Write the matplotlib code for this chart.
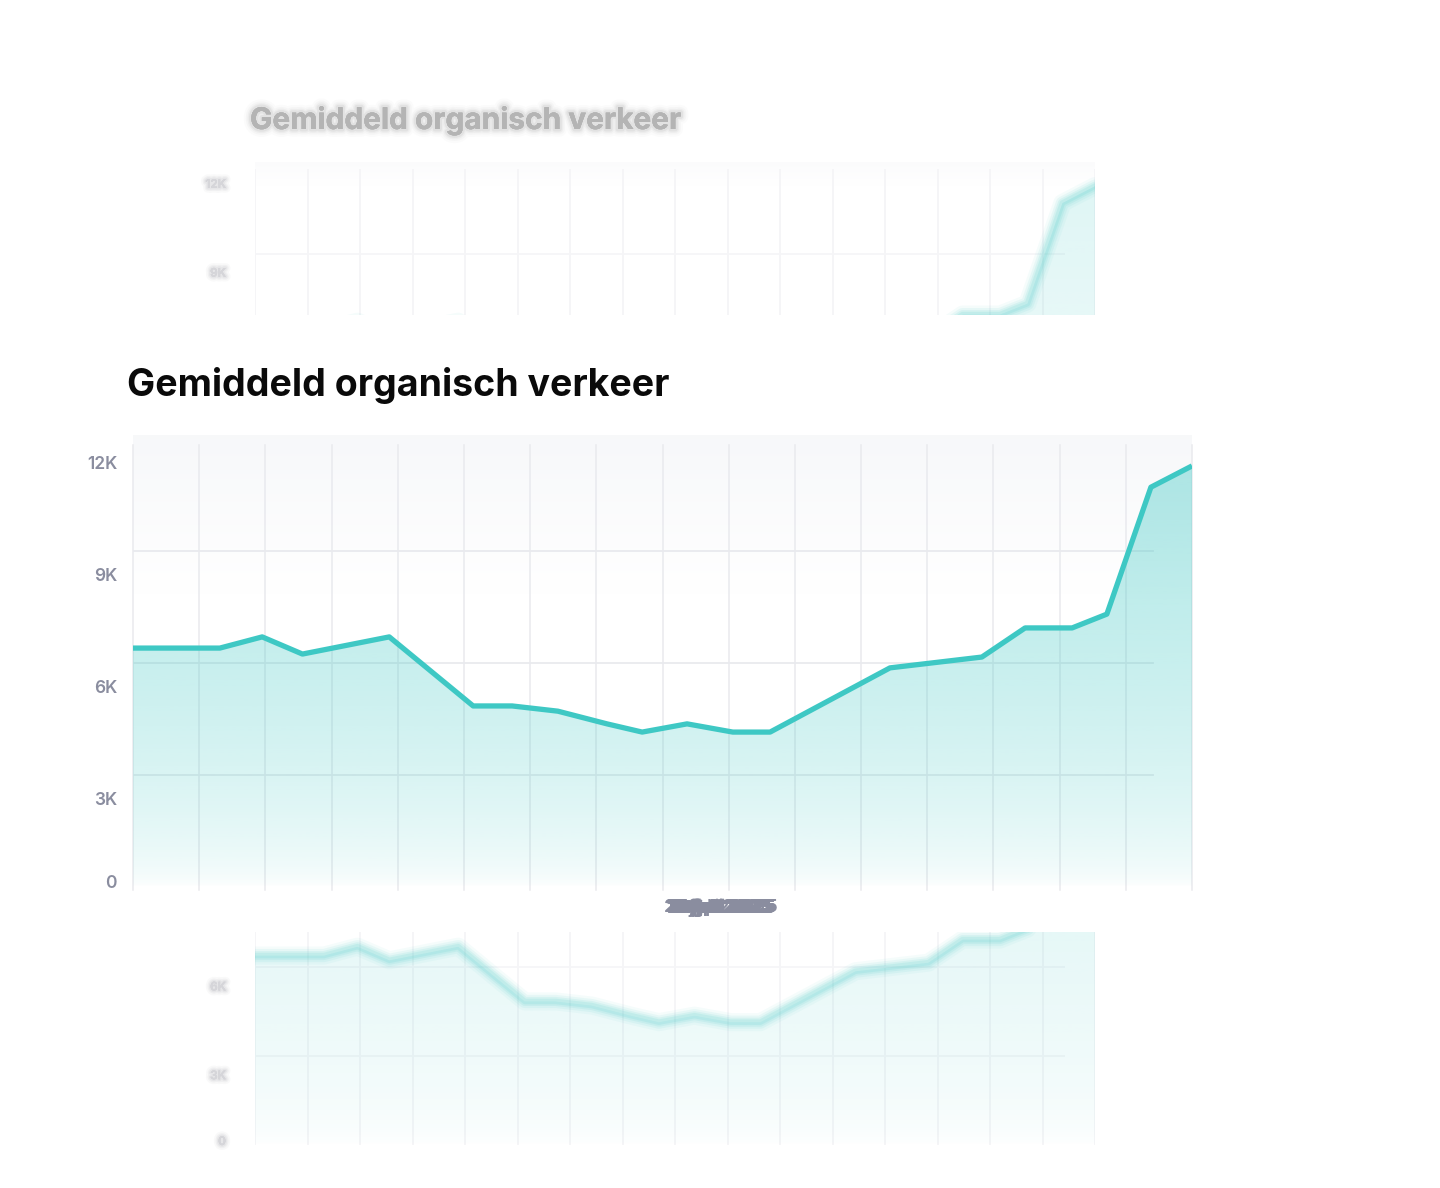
import numpy as np
import matplotlib
matplotlib.use("Agg")
import matplotlib.pyplot as plt
from matplotlib import patheffects as pe
from matplotlib.patches import Polygon

W, H = 1440, 1188

title = "Gemiddeld organisch verkeer"

# week position (0..25) and organic visits in thousands
weeks = [0, 2.05, 3.05, 4, 6.05, 8.03, 8.95, 10.03, 11.19, 12.02, 13.08,
         14.16, 15.04, 17.87, 20.04, 21.06, 22.17, 22.99, 24.03, 25]
visits_k = [6.40, 6.40, 6.70, 6.24, 6.70, 4.85, 4.85, 4.71, 4.37, 4.15, 4.37,
            4.15, 4.15, 5.87, 6.16, 6.94, 6.94, 7.31, 10.71, 11.28]

y_ticks = [0, 3, 6, 9, 12]
y_tick_labels = ["0", "3K", "6K", "9K", "12K"]

# every date label ends up on the same spot in the original
date_labels = ["3 feb 2025", "10 feb 2025", "17 feb 2025", "24 feb 2025",
               "3 mrt 2025", "10 mrt 2025", "17 mrt 2025", "24 mrt 2025",
               "31 mrt 2025", "7 apr 2025", "14 apr 2025", "21 apr 2025",
               "28 apr 2025", "5 mei 2025", "12 mei 2025", "19 mei 2025",
               "26 mei 2025", "2 jun 2025", "9 jun 2025", "16 jun 2025",
               "23 jun 2025", "30 jun 2025", "7 jul 2025", "14 jul 2025",
               "21 jul 2025", "28 jul 2025"]

TEAL = "#3ec8c4"
LABEL = "#8a8d9f"
GRID = "#e9eaee"
FONT = ["Inter", "DejaVu Sans"]

plt.rcParams["font.family"] = FONT

fig = plt.figure(figsize=(W / 100, H / 100), dpi=100)
fig.patch.set_facecolor("white")


def px_axes(left, top, right, bottom):
    return fig.add_axes([left / W, 1 - bottom / H, (right - left) / W, (bottom - top) / H])


def gradient_area(ax, top_alpha, ytop):
    verts = [(weeks[0], 0)] + list(zip(weeks, visits_k)) + [(weeks[-1], 0)]
    poly = Polygon(verts, closed=True, facecolor="none", edgecolor="none")
    ax.add_patch(poly)
    yy = np.linspace(0, ytop, 300)
    rgba = np.zeros((300, 1, 4))
    rgba[..., :3] = matplotlib.colors.to_rgb(TEAL)
    rgba[:, 0, 3] = top_alpha * np.clip(yy / 12, 0, 1) ** 0.55
    im = ax.imshow(rgba, extent=[weeks[0], weeks[-1], 0, ytop], origin="lower",
                   aspect="auto", zorder=1, interpolation="bilinear")
    im.set_clip_path(poly)


def plot_bg(ax, top_rgb, frac):
    g = np.ones((200, 1, 3))
    t = np.linspace(0, 1, 200)[:, None]
    w = np.clip((t - (1 - frac)) / frac, 0, 1)
    g[:] = (1 - w)[..., None] * 1.0 + w[..., None] * np.array(top_rgb)
    ax.imshow(g, extent=[0, 1, 0, 1], transform=ax.transAxes, origin="lower",
              aspect="auto", zorder=0)


def soft(color, widths, alphas):
    # stacked strokes stand in for the blur of the background copy
    fx = [pe.withStroke(linewidth=w, foreground=color, alpha=a)
          for w, a in zip(widths, alphas)]
    return fx + [pe.Normal()]


# ---------------- blurred background copies ----------------
BS = 29.6          # px per 1K in the background copy
BX0, BX1 = 255, 1095


def background_copy(zero_px, top_px, bottom_px, with_title):
    ax = px_axes(BX0, top_px, BX1, bottom_px)
    ylo, yhi = (zero_px - bottom_px) / BS, (zero_px - top_px) / BS
    if with_title:
        plot_bg(ax, (0.985, 0.986, 0.99), 0.15)
    for xv in np.linspace(0, 25, 17):
        ax.plot([xv, xv], [0, 11.82], color="#f5f5f7", lw=1.4, zorder=0.5)
    for v in [3, 6, 9]:
        ax.plot([0, 24.08], [v, v], color="#f6f6f8", lw=1.4, zorder=0.5)
    gradient_area(ax, 0.17, 12.2)
    for lw, a in [(13, 0.05), (9.5, 0.08), (6.5, 0.10), (4, 0.12)]:
        ax.plot(weeks, visits_k, color=TEAL, lw=lw, alpha=a, zorder=3,
                solid_joinstyle="round", solid_capstyle="round")
    ax.set_xlim(0, 25)
    ax.set_ylim(ylo, yhi)
    ax.axis("off")
    for v, lab in zip(y_ticks, y_tick_labels):
        ypx = zero_px - v * BS + (-3 if v == 0 else 20)
        if top_px <= ypx <= bottom_px + 5:
            fig.text(226 / W, 1 - ypx / H, lab, ha="right", va="center",
                     fontsize=8.5, fontweight="semibold", color="#d6d6da",
                     path_effects=soft("#d0d0d4", [7, 4.5, 2.5], [0.12, 0.2, 0.3]))
    if with_title:
        fig.text(250 / W, 1 - (zero_px - 400) / H, title, ha="left",
                 va="center", fontsize=21.5, fontweight="bold",
                 color="#b4b4b4", alpha=0.75,
                 path_effects=soft("#b8b8b8", [11, 8, 5.5, 3.5],
                                   [0.05, 0.08, 0.12, 0.2]))


background_copy(520, 162, 315, True)
background_copy(1145, 932, 1145, False)

# ---------------- main chart ----------------
PX_K = 37.33
ax = px_axes(133, 435, 1192, 887)
ytop = (887 - 435) / PX_K
plot_bg(ax, (0.969, 0.973, 0.98), 0.35)

for xv in np.linspace(0, 25, 17):
    ax.plot([xv, xv], [-0.08, (887 - 445) / PX_K], color=GRID, lw=1.1,
            zorder=0.5, clip_on=False)
for v in [3, 6, 9]:
    ax.plot([0, 24.08], [v, v], color=GRID, lw=1.3, zorder=0.5)

gradient_area(ax, 0.42, ytop)
ax.plot(weeks, visits_k, color=TEAL, lw=3.8, zorder=4,
        solid_joinstyle="round", solid_capstyle="butt")

ax.set_xlim(0, 25)
ax.set_ylim(0, ytop)
ax.axis("off")

for v, lab in zip(y_ticks, y_tick_labels):
    off = 3 if v == 0 else -25
    ax.annotate(lab, xy=(0, v), xycoords=ax.get_yaxis_transform(),
                xytext=(-16 * 0.72, off * 0.72), textcoords="offset points",
                ha="right", va="center", fontsize=12.5, fontweight="semibold",
                color=LABEL)

for lab in date_labels:
    fig.text(721 / W, 1 - 908 / H, lab, ha="center", va="center",
             fontsize=13.5, fontweight="semibold", color=LABEL)

fig.text(127 / W, 1 - 386 / H, title, ha="left", va="center",
         fontsize=27, fontweight="bold", color="#0a0a0a")

fig.savefig("out.png", dpi=100, facecolor="white")
